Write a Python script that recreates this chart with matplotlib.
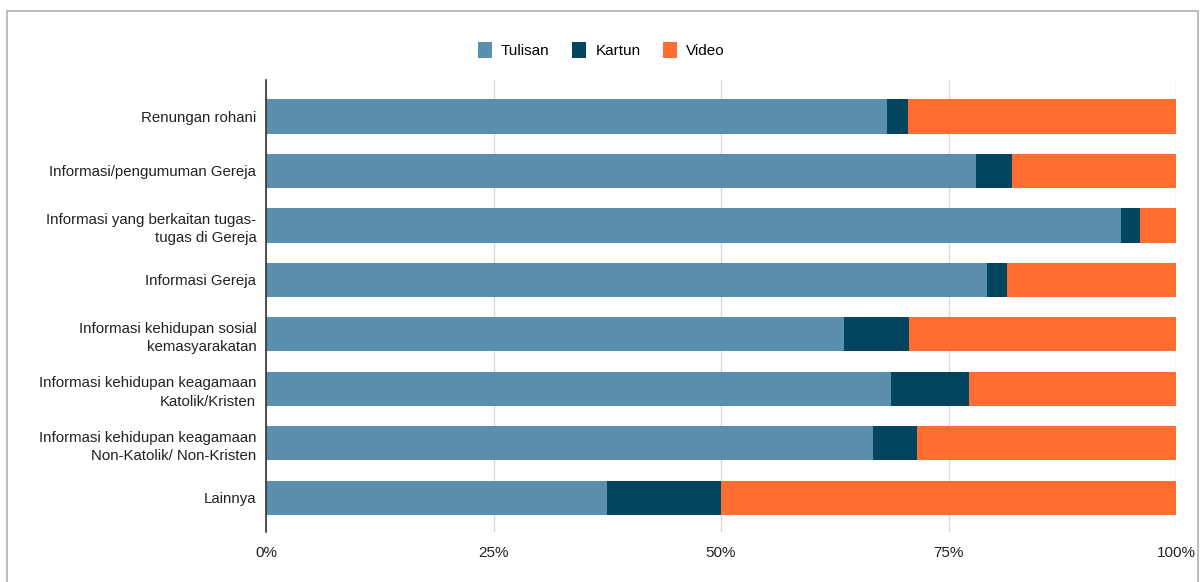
import matplotlib
matplotlib.use("Agg")
import matplotlib.pyplot as plt
from matplotlib.patches import Rectangle
from matplotlib.ticker import FuncFormatter

plt.rcParams["font.family"] = ["Liberation Sans", "DejaVu Sans"]

categories = [
    "Renungan rohani",
    "Informasi/pengumuman Gereja",
    "Informasi yang berkaitan tugas-\ntugas di Gereja",
    "Informasi Gereja",
    "Informasi kehidupan sosial\nkemasyarakatan",
    "Informasi kehidupan keagamaan\nKatolik/Kristen",
    "Informasi kehidupan keagamaan\nNon-Katolik/ Non-Kristen",
    "Lainnya",
]
tulisan = [68.2, 78.0, 94.0, 79.2, 63.5, 68.7, 66.7, 37.5]
kartun = [2.3, 4.0, 2.0, 2.2, 7.2, 8.5, 4.8, 12.5]
video = [29.5, 18.0, 4.0, 18.6, 29.3, 22.8, 28.5, 50.0]

series = [("Tulisan", tulisan, "#5a8fae"),
          ("Kartun", kartun, "#03445f"),
          ("Video", video, "#ff6d31")]

fig = plt.figure(figsize=(12.03, 5.82), dpi=100)
ax = fig.add_axes([266 / 1203, 1 - 532 / 582, (1176 - 266) / 1203, (532 - 80) / 582])

# outer frame around the chart
fig.patches.append(Rectangle((7 / 1203, -0.05), (1198 - 7) / 1203, 1.05 - 11 / 582,
                             transform=fig.transFigure, fill=False,
                             edgecolor="#b0b0b0", linewidth=1.2))

y = list(range(len(categories)))
left = [0.0] * len(categories)
for name, vals, color in series:
    ax.barh(y, vals, left=left, height=0.63, color=color, label=name, zorder=3)
    left = [a + b for a, b in zip(left, vals)]

ax.set_xlim(0, 100)
ax.set_ylim(len(categories) - 1 + 0.63, -0.67)
ax.set_yticks(y)
ax.set_yticklabels(categories, fontsize=10.8, color="#222222", linespacing=1.4)
ax.set_xticks([0, 25, 50, 75, 100])
ax.xaxis.set_major_formatter(FuncFormatter(lambda v, p: f"{int(v)}%"))
ax.tick_params(axis="x", length=0, pad=10, labelsize=11, labelcolor="#222222")
ax.tick_params(axis="y", length=0, pad=7)
ax.grid(axis="x", color="#d9d9d9", linewidth=1, zorder=0)
for side in ["top", "right", "bottom"]:
    ax.spines[side].set_visible(False)
ax.spines["left"].set_color("#333333")
ax.spines["left"].set_linewidth(1.2)
ax.spines["left"].set_zorder(4)

handles, labels = ax.get_legend_handles_labels()
fig.legend(handles, labels, loc="center", bbox_to_anchor=(0.5, 1 - 50 / 582), ncol=3,
           frameon=False, fontsize=11, handlelength=0.9, handleheight=1.3,
           columnspacing=1.5, handletextpad=0.6)

fig.savefig("out.png", dpi=100, facecolor="white")
